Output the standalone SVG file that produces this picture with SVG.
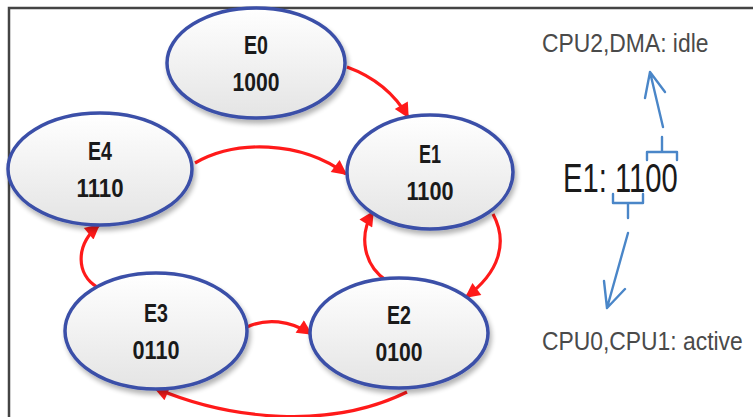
<svg xmlns="http://www.w3.org/2000/svg" width="753" height="417" viewBox="0 0 753 417">
<defs>
<linearGradient id="g" x1="0" y1="0" x2="0" y2="1">
<stop offset="0" stop-color="#ffffff"/>
<stop offset="1" stop-color="#e4e4e4"/>
</linearGradient>
<filter id="sh" x="-20%" y="-20%" width="140%" height="150%">
<feGaussianBlur in="SourceAlpha" stdDeviation="2.5"/>
<feOffset dx="2" dy="4" result="b"/>
<feComponentTransfer><feFuncA type="linear" slope="0.3"/></feComponentTransfer>
<feMerge><feMergeNode/><feMergeNode in="SourceGraphic"/></feMerge>
</filter>
<marker id="ra" viewBox="0 0 10 10" refX="9" refY="5" markerWidth="18" markerHeight="15" markerUnits="userSpaceOnUse" orient="auto">
<path d="M0,0 L10,5 L0,10 Z" fill="#ff1a1a"/>
</marker>
</defs>
<style>
.n ellipse{fill:url(#g);stroke:#3a4fa8;stroke-width:3.5;filter:url(#sh)}
.n text{font-family:"Liberation Sans",Arial,sans-serif;font-weight:bold;font-size:26px;fill:#1a1a1a;text-anchor:middle}
.r{fill:none;stroke:#ff1a1a;stroke-width:3.2;marker-end:url(#ra)}
.b{fill:none;stroke:#4a86c8;stroke-width:2.4;stroke-linecap:round;stroke-linejoin:round}
.lbl{font-family:"Liberation Sans",Arial,sans-serif;font-size:26px;fill:#4a4a4a}
</style>
<rect width="753" height="417" fill="#ffffff"/>
<path d="M9,417 L9,8 L753,8" fill="none" stroke="#444" stroke-width="2.5"/>

<g id="connectors">
<path class="r" d="M347,67 Q388,82 408,117"/>
<path class="r" d="M195,163 C235,140 300,140 346,174"/>
<path class="r" d="M493,214 C508,242 500,272 466,297"/>
<path class="r" d="M387,281 C364,266 358,236 373,212"/>
<path class="r" d="M97,287 C77,275 74,246 99,225"/>
<path class="r" d="M247,327 C266,318 290,320 311,334"/>
<path class="r" d="M407,392 C330,430 230,420 155,388"/>
</g>

<g id="E0" class="n"><ellipse cx="256" cy="63" rx="89" ry="55"/><text x="256" y="54" textLength="24" lengthAdjust="spacingAndGlyphs">E0</text><text x="256" y="91" textLength="47" lengthAdjust="spacingAndGlyphs">1000</text></g>
<g id="E1" class="n"><ellipse cx="430" cy="172" rx="83" ry="57"/><text x="430" y="163" textLength="22" lengthAdjust="spacingAndGlyphs">E1</text><text x="430" y="200" textLength="47" lengthAdjust="spacingAndGlyphs">1100</text></g>
<g id="E2" class="n"><ellipse cx="399" cy="333" rx="89" ry="55"/><text x="399" y="324" textLength="24" lengthAdjust="spacingAndGlyphs">E2</text><text x="399" y="361" textLength="47" lengthAdjust="spacingAndGlyphs">0100</text></g>
<g id="E3" class="n"><ellipse cx="156" cy="331" rx="91" ry="58"/><text x="156" y="322" textLength="24" lengthAdjust="spacingAndGlyphs">E3</text><text x="156" y="359" textLength="47" lengthAdjust="spacingAndGlyphs">0110</text></g>
<g id="E4" class="n"><ellipse cx="100" cy="169" rx="92" ry="56"/><text x="100" y="160" textLength="24" lengthAdjust="spacingAndGlyphs">E4</text><text x="100" y="197" textLength="47" lengthAdjust="spacingAndGlyphs">1110</text></g>

<g id="legend">
<text class="lbl" transform="translate(542,52) scale(0.88,1)">CPU2,DMA: idle</text>
<text transform="translate(563,192) scale(0.73,1)" font-family="Liberation Sans,Arial,sans-serif" font-size="40" fill="#1a1a1a">E1: 1100</text>
<text class="lbl" transform="translate(542,350) scale(0.88,1)">CPU0,CPU1: active</text>
<path class="b" d="M647,160 L647,152 L677,152 L677,160 M662,152 L662,137"/>
<path class="b" d="M663,127 L650,72 M645,98 L650,72 L665,92"/>
<path class="b" d="M613,194 L613,203 L643,203 L643,194 M628,203 L628,218"/>
<path class="b" d="M628,233 L607,308 M604,281 L607,308 L625,289"/>
</g>
</svg>
